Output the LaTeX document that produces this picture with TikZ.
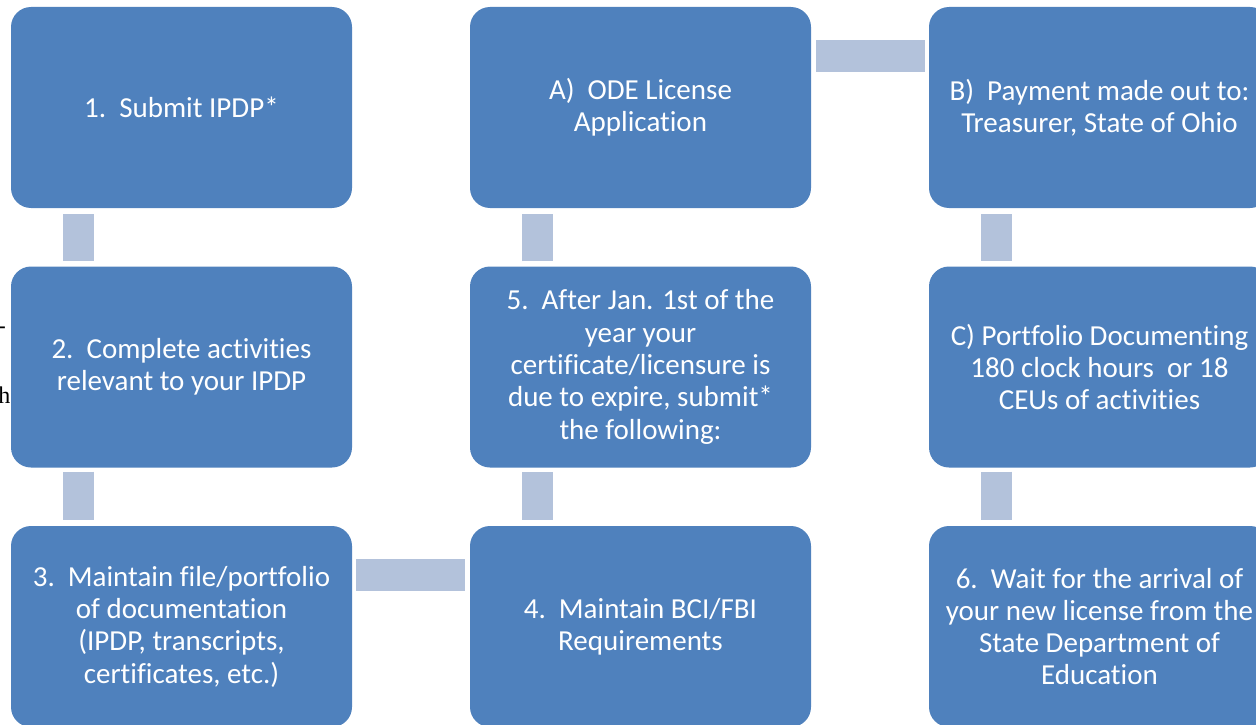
\documentclass[tikz,border=0pt]{standalone}
\usepackage{fontspec}
\setmainfont{Carlito}[Ligatures=NoCommon]
\newfontfamily\strayfont{Liberation Serif}
\definecolor{boxblue}{HTML}{4F81BD}
\definecolor{linkblue}{HTML}{B3C2DB}
\tikzset{
  stepbox/.style={rectangle, rounded corners=20pt, fill=boxblue, draw=none,
    minimum width=341pt, minimum height=201pt, inner sep=0pt,
    align=center, text=white, font=\fontsize{29}{32.3}\selectfont},
  linkbar/.style={draw=linkblue, line width=31.5pt},
  stray/.style={inner sep=0pt, font=\strayfont\fontsize{24}{26}\selectfont, text=black}
}
\newcommand{\gp}{\hspace{0.45em}}
\begin{document}
\begin{tikzpicture}[x=1pt,y=-1pt]
\useasboundingbox (0,0) rectangle (1256,725);
\begin{scope}
\clip (0,0) rectangle (1256,725);
% stray fragments at left edge
\node[stray, anchor=base east] (s1) at (6,333) {-};
\node[stray, anchor=base east] (s2) at (10.5,403) {h};
% row 1
\node[stepbox] (b1) at (181.5,107.5) {1.\gp Submit IPDP*};
\node[stepbox] (bA) at (640.5,107.5) {A)\gp ODE License\\Application};
\node[stepbox] (bB) at (1099.5,107.5) {B)\gp Payment made out to:\\Treasurer, State of Ohio};
% row 2
\node[stepbox] (b2) at (181.5,367) {2.\gp Complete activities\\relevant to your IPDP};
\node[stepbox] (b5) at (640.5,367) {5.\gp After Jan. 1st of the\\year your\\certificate/licensure is\\due to expire, submit*\\the following:};
\node[stepbox] (bC) at (1099.5,367) {C) Portfolio Documenting\\180 clock hours\ \ or 18\\CEUs of activities};
% row 3
\node[stepbox] (b3) at (181.5,626.5) {3.\gp Maintain file/portfolio\\of documentation\\(IPDP, transcripts,\\certificates, etc.)};
\node[stepbox] (b4) at (640.5,626.5) {4.\gp Maintain BCI/FBI\\Requirements};
\node[stepbox] (b6) at (1099.5,626.5) {6.\gp Wait for the arrival of\\your new license from the\\State Department of\\Education};
% connectors
\draw[linkbar, shorten <=6pt, shorten >=5pt] ([xshift=-103pt]b1.south) -- ([xshift=-103pt]b2.north);
\draw[linkbar, shorten <=4pt, shorten >=6pt] ([xshift=-103pt]b2.south) -- ([xshift=-103pt]b3.north);
\draw[linkbar, shorten <=4pt, shorten >=5pt] ([yshift=51.5pt]b3.east) -- ([yshift=51.5pt]b4.west);
\draw[linkbar, shorten <=6pt, shorten >=4pt] ([xshift=-103pt]b4.north) -- ([xshift=-103pt]b5.south);
\draw[linkbar, shorten <=5pt, shorten >=6pt] ([xshift=-103pt]b5.north) -- ([xshift=-103pt]bA.south);
\draw[linkbar, shorten <=5pt, shorten >=4pt] ([yshift=51.5pt]bA.east) -- ([yshift=51.5pt]bB.west);
\draw[linkbar, shorten <=6pt, shorten >=5pt] ([xshift=-103pt]bB.south) -- ([xshift=-103pt]bC.north);
\draw[linkbar, shorten <=4pt, shorten >=6pt] ([xshift=-103pt]bC.south) -- ([xshift=-103pt]b6.north);
\end{scope}
\end{tikzpicture}
\end{document}
